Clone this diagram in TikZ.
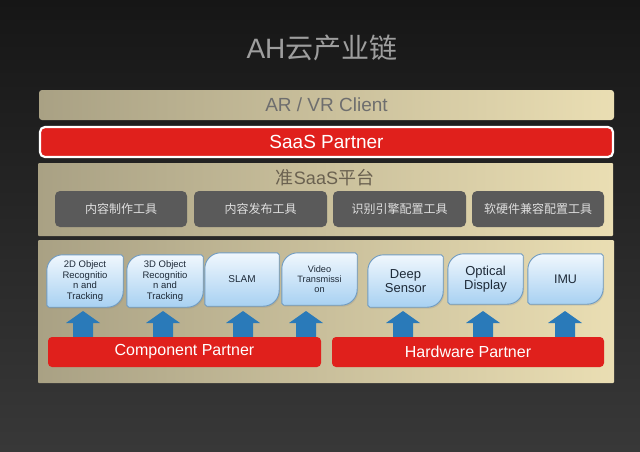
\documentclass[tikz,border=0pt]{standalone}
\usepackage{fontspec}
\setmainfont{Liberation Sans}
\newfontfamily\cjk{Noto Sans CJK SC}
\usetikzlibrary{calc,shadows}
\definecolor{bgtop}{HTML}{161616}
\definecolor{bgbot}{HTML}{383838}
\definecolor{titlegray}{HTML}{9E9E9E}
\definecolor{tanL}{HTML}{A9A184}
\definecolor{tanR}{HTML}{EADEB3}
\definecolor{cltext}{HTML}{6E6E6E}
\definecolor{redbar}{HTML}{E0201C}
\definecolor{darkbox}{HTML}{5A5A5A}
\definecolor{darktext}{HTML}{DEDEDE}
\definecolor{pantext}{HTML}{6A6150}
\definecolor{blueT}{HTML}{F0F7FD}
\definecolor{blueB}{HTML}{A8D1F2}
\definecolor{blueline}{HTML}{6F9BC2}
\definecolor{bluetext}{HTML}{1E2A38}
\definecolor{arrblue}{HTML}{2A7AB9}
\pgfdeclarelayer{bg}
\pgfdeclarelayer{mid}
\pgfsetlayers{bg,mid,main}
\newcommand\bshape[1]{%
  \draw[bluebox] ($(#1.north west)+(0,16)$)
      .. controls ($(#1.north west)+(0,7)$) and ($(#1.north west)+(7,0)$) .. ($(#1.north west)+(16,0)$)
    -- ($(#1.north east)+(-2,0)$) -- ($(#1.north east)+(0,2)$)
    -- ($(#1.south east)+(0,-16)$)
      .. controls ($(#1.south east)+(0,-7)$) and ($(#1.south east)+(-7,0)$) .. ($(#1.south east)+(-16,0)$)
    -- ($(#1.south west)+(2,0)$) -- ($(#1.south west)+(0,-2)$) -- cycle;}
\newcommand\uparr[2]{%
  \fill[arrblue] (#1) -- ++(17,12) -- ++(-7,0) -- ($(#1 |- #2.north)+(10,0)$)
    -- ($(#1 |- #2.north)+(-10,0)$) -- ($(#1)+(-10,12)$) -- ++(-7,0) -- cycle;}
\tikzset{
  tanbar/.style={left color=tanL, right color=tanR, rounded corners=3pt, inner sep=0pt},
  redbox/.style={fill=redbar, text=white, rounded corners=4pt, inner sep=0pt, font=\fontsize{16}{18}\selectfont},
  darkbtn/.style={fill=darkbox, text=darktext, rounded corners=5pt, minimum height=36pt, inner sep=0pt, font=\cjk\fontsize{12}{14}\selectfont},
  bluetxt/.style={align=center, text=bluetext, inner sep=0pt, minimum height=52pt},
  bluebox/.style={draw=blueline, line width=0.9pt, top color=blueT, bottom color=blueB,
    drop shadow={shadow xshift=1pt, shadow yshift=-1.5pt, opacity=0.22}},
}
\begin{document}
\begin{tikzpicture}[x=1pt,y=-1pt]
\useasboundingbox (0,0) rectangle (640,451);
\begin{pgfonlayer}{bg}
\shade[top color=bgtop, bottom color=bgbot] (0,0) rectangle (640,451);
\node[text=titlegray, font=\fontsize{28}{30}\selectfont] (title) at (322,48) {AH{\cjk 云产业链}};
\node[tanbar, minimum width=575pt, minimum height=30pt, text=cltext, font=\fontsize{19}{21}\selectfont] (client) at (326.5,105) {AR / VR Client};
\node[fill=redbar, draw=white, line width=2.2pt, rounded corners=5pt, minimum width=573pt, minimum height=30pt, text=white, inner sep=0pt, font=\fontsize{19}{21}\selectfont] (saas) at (326.5,142) {SaaS Partner};
\node[tanbar, rounded corners=1pt, minimum width=575pt, minimum height=73pt] (panel) at (325.5,199.5) {};
\node[text=pantext, font=\cjk\fontsize{18}{20}\selectfont] (ptitle) at (325,178) {准{\rmfamily SaaS}平台};
\node[darkbtn, minimum width=132pt] (t1) at (121,209) {内容制作工具};
\node[darkbtn, minimum width=133pt] (t2) at (260.5,209) {内容发布工具};
\node[darkbtn, minimum width=133pt] (t3) at (399.5,209) {识别引擎配置工具};
\node[darkbtn, minimum width=132pt] (t4) at (538,209) {软硬件兼容配置工具};
\node[tanbar, rounded corners=1pt, minimum width=576pt, minimum height=143pt] (lower) at (326,311.5) {};
\end{pgfonlayer}
% blue component boxes
\node[bluetxt, minimum width=76pt, font=\fontsize{9.5}{10.6}\selectfont] (b1) at (85,281) {2D Object\\Recognitio\\n and\\Tracking};
\node[bluetxt, minimum width=76pt, font=\fontsize{9.5}{10.6}\selectfont] (b2) at (165,281) {3D Object\\Recognitio\\n and\\Tracking};
\node[bluetxt, minimum width=74pt, minimum height=53pt, font=\fontsize{10}{12}\selectfont] (b3) at (242,279.5) {SLAM};
\node[bluetxt, minimum width=75pt, font=\fontsize{9.2}{10}\selectfont] (b4) at (319.5,279) {Video\\Transmissi\\on};
\node[bluetxt, minimum width=75pt, font=\fontsize{13}{14.3}\selectfont] (b5) at (405.5,281) {Deep\\Sensor};
\node[bluetxt, minimum width=75pt, minimum height=50pt, font=\fontsize{13}{14.3}\selectfont] (b6) at (485.5,279) {Optical\\Display};
\node[bluetxt, minimum width=75pt, minimum height=50pt, font=\fontsize{12.5}{14}\selectfont] (b7) at (565.5,279) {IMU};
\begin{pgfonlayer}{mid}
\foreach \b in {b1,b2,b3,b4,b5,b6,b7} {\bshape{\b}}
\end{pgfonlayer}
% partner bars
\node[redbox, minimum width=273pt, minimum height=30pt] (cp) at (184.5,352) {Component Partner};
\node[redbox, minimum width=272pt, minimum height=30pt] (hp) at (468,352) {Hardware Partner};
% arrow tips
\coordinate (a1) at (83,311);
\coordinate (a2) at (163,311);
\coordinate (a3) at (243,311);
\coordinate (a4) at (306,311);
\coordinate (a5) at (403,311);
\coordinate (a6) at (483,311);
\coordinate (a7) at (565,311);
\begin{pgfonlayer}{mid}
\uparr{a1}{cp}
\uparr{a2}{cp}
\uparr{a3}{cp}
\uparr{a4}{cp}
\uparr{a5}{hp}
\uparr{a6}{hp}
\uparr{a7}{hp}
\end{pgfonlayer}
\end{tikzpicture}
\end{document}
